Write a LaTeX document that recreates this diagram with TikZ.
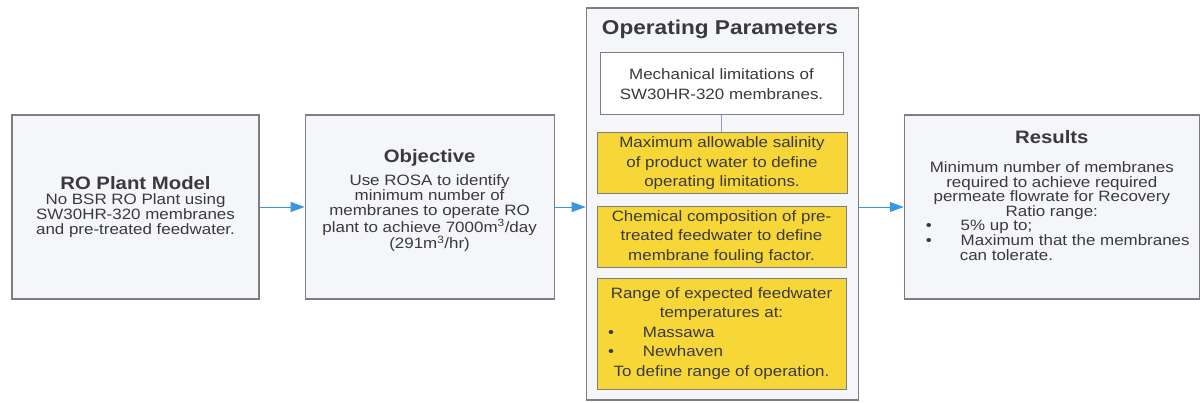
\documentclass[tikz,border=0pt]{standalone}
\usepackage{fontspec}
\setmainfont{Liberation Sans}[FakeStretch=1.13]
\usetikzlibrary{arrows.meta, positioning}

\definecolor{boxfill}{RGB}{245,246,249}
\definecolor{boxline}{RGB}{125,125,130}
\definecolor{inkgray}{RGB}{58,58,62}
\definecolor{paramyellow}{RGB}{247,215,55}
\definecolor{flowblue}{RGB}{58,150,222}
\definecolor{linkblue}{RGB}{140,160,200}

\newcommand{\stagetitle}[1]{{\fontsize{18}{18}\selectfont\bfseries #1}}
\newcommand{\bulletline}[2]{\makebox[#1][l]{\textbullet\hspace{29pt}#2}}

\begin{document}
\begin{tikzpicture}[
    x=1pt, y=-1pt,
    stage/.style={draw=boxline, line width=1.1pt, fill=boxfill, text=inkgray, align=center,
      minimum height=184pt, inner sep=0pt, font=\fontsize{15}{15}\selectfont},
    param/.style={draw=boxline, line width=1pt, fill=#1, text=inkgray, align=center,
      inner sep=0pt, minimum width=249pt, font=\fontsize{15}{19.5}\selectfont},
    param/.default=paramyellow,
    flow/.style={-{Triangle[length=14pt,width=10pt]}, line width=0.9pt, flowblue},
  ]
  \useasboundingbox (0,0) rectangle (1201,403);

  % Model and objective
  \node[stage, minimum width=247pt] (plant) at (135.5,207)
    {\stagetitle{RO Plant Model}\\ No BSR RO Plant using\\ SW30HR-320 membranes\\ and pre-treated feedwater.};
  \node[stage, minimum width=249pt, text depth=16pt, right=45pt of plant] (objective)
    {\stagetitle{Objective}\\[8pt] Use ROSA to identify\\ minimum number of\\ membranes to operate RO\\
     plant to achieve 7000m\textsuperscript{3}/day\\ (291m\textsuperscript{3}/hr)};

  % Operating parameters
  \node[draw=boxline, line width=1.1pt, fill=boxfill, minimum width=272pt, minimum height=392pt,
        inner sep=0pt, right=31pt of objective, yshift=3pt] (params) {};
  \node[text=inkgray, font=\fontsize{20}{20}\selectfont\bfseries] (paramtitle) at (720,29) {Operating Parameters};
  \node[param=white, minimum width=243pt, minimum height=62pt] (mech) at (721.5,84)
    {Mechanical limitations of\\ SW30HR-320 membranes.};
  \node[param, minimum width=250pt, minimum height=61pt] (salinity) at (722,163.5)
    {Maximum allowable salinity\\ of product water to define\\ operating limitations.};
  \node[param, minimum height=60pt] (chem) at (721.5,237)
    {Chemical composition of pre-\\ treated feedwater to define\\ membrane fouling factor.};
  \node[param, minimum height=111pt] (temp) at (721.5,333.5)
    {Range of expected feedwater\\ temperatures at:\\ \bulletline{227pt}{Massawa}\\
     \bulletline{227pt}{Newhaven}\\ To define range of operation.};

  % Results
  \node[stage, minimum width=295pt, font=\fontsize{15}{14.6}\selectfont, text depth=23pt,
        right=45pt of params, yshift=-3pt] (results)
    {\stagetitle{Results}\\[14pt] Minimum number of membranes\\ required to achieve required\\
     permeate flowrate for Recovery\\ Ratio range:\\ \bulletline{252pt}{5\% up to;}\\
     \bulletline{252pt}{Maximum that the membranes}\\ \makebox[252pt][l]{\hspace{34pt}can tolerate.}};

  % Arrows
  \draw[flow] (plant) -- (objective);
  \draw[flow] (objective.east) -- (objective.east -| params.west);
  \draw[flow] (params.east |- results.west) -- (results.west);
  \draw[linkblue, line width=0.8pt] (mech.south) -- (mech.south |- salinity.north);

\end{tikzpicture}
\end{document}
